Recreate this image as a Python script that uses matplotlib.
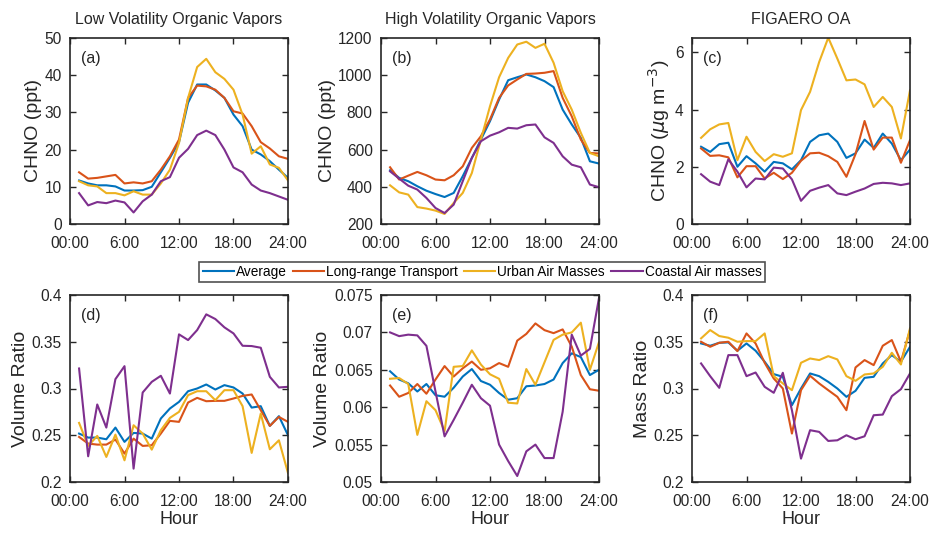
import matplotlib.pyplot as plt
from matplotlib.ticker import FuncFormatter

plt.rcParams['font.family'] = ['Liberation Sans', 'DejaVu Sans']

hours = list(range(1, 25))
series_names = ['Average', 'Long-range Transport', 'Urban Air Masses', 'Coastal Air masses']
colors = ['#0072BD', '#D95319', '#EDB120', '#7E2F8E']

# (a) low volatility organic vapors, ppt
lvov_avg = [11.7, 10.9, 10.4, 10.4, 10.1, 9.0, 9.0, 9.1, 10.0, 13.9, 17.8, 22.0,
            32.6, 37.5, 37.5, 35.9, 33.9, 29.4, 26.3, 20.0, 18.7, 16.9, 14.6, 12.4]
lvov_lrt = [13.9, 12.2, 12.4, 12.8, 13.2, 10.9, 11.2, 10.9, 11.5, 14.6, 18.2, 22.7,
            33.9, 37.2, 37.0, 36.1, 33.9, 30.3, 29.7, 26.3, 22.0, 20.3, 18.2, 17.5]
lvov_urb = [11.5, 10.4, 10.1, 8.3, 8.3, 7.7, 8.8, 7.9, 7.9, 10.9, 14.6, 21.8,
            33.9, 42.2, 44.4, 40.8, 39.0, 36.1, 29.4, 18.9, 20.9, 16.0, 15.1, 11.7]
lvov_cst = [8.3, 5.0, 5.9, 5.6, 6.3, 5.8, 3.1, 6.1, 7.9, 11.5, 12.6, 17.8,
            20.2, 23.9, 25.1, 23.9, 20.0, 15.2, 13.9, 10.6, 9.0, 8.3, 7.4, 6.5]

# (b) high volatility organic vapors, ppt
hvov_avg = [489, 448, 430, 403, 379, 361, 345, 367, 457, 555, 654, 753,
            869, 973, 989, 1004, 989, 968, 936, 815, 735, 663, 537, 525]
hvov_lrt = [505, 439, 460, 480, 462, 439, 435, 462, 510, 609, 672, 762,
            878, 945, 977, 1007, 1009, 1013, 1022, 878, 779, 654, 582, 579]
hvov_urb = [408, 370, 358, 291, 283, 272, 254, 313, 367, 474, 654, 833,
            989, 1093, 1165, 1180, 1147, 1169, 1067, 914, 815, 690, 582, 564]
hvov_cst = [483, 444, 406, 385, 340, 286, 259, 304, 430, 555, 645, 675,
            693, 717, 713, 731, 735, 666, 636, 564, 519, 505, 412, 398]

# (c) FIGAERO OA, ug m-3
oa_avg = [2.70, 2.52, 2.79, 2.84, 2.00, 2.37, 2.12, 1.83, 2.17, 2.12, 1.91, 2.23,
          2.87, 3.10, 3.16, 2.87, 2.31, 2.47, 2.95, 2.66, 3.16, 2.81, 2.23, 2.60]
oa_lrt = [2.64, 2.38, 2.40, 2.33, 1.63, 2.02, 2.02, 1.59, 1.79, 1.57, 1.79, 2.21,
          2.47, 2.49, 2.37, 2.17, 1.65, 2.44, 3.60, 2.60, 3.02, 3.02, 2.14, 2.93]
oa_urb = [3.01, 3.31, 3.48, 3.53, 2.23, 3.05, 2.52, 2.20, 2.44, 2.35, 2.47, 3.98,
          4.62, 5.66, 6.51, 5.78, 5.02, 5.05, 4.88, 4.09, 4.44, 4.09, 2.99, 4.67]
oa_cst = [1.74, 1.48, 1.36, 2.26, 1.83, 1.28, 1.59, 1.56, 1.97, 1.94, 1.56, 0.81,
          1.16, 1.27, 1.36, 1.07, 1.01, 1.13, 1.24, 1.40, 1.44, 1.42, 1.36, 1.42]

# (d) volume ratio, low volatility
lv_ratio_avg = [0.2518, 0.2475, 0.2475, 0.2457, 0.2582, 0.2429, 0.2525, 0.2518, 0.2464, 0.2679, 0.2786, 0.2857,
                0.2971, 0.3000, 0.3043, 0.2989, 0.3036, 0.3011, 0.2946, 0.2796, 0.2811, 0.2600, 0.2704, 0.2500]
lv_ratio_lrt = [0.2482, 0.2411, 0.2400, 0.2400, 0.2454, 0.2304, 0.2464, 0.2386, 0.2393, 0.2518, 0.2654, 0.2643,
                0.2850, 0.2900, 0.2864, 0.2868, 0.2868, 0.2893, 0.2921, 0.2936, 0.2768, 0.2600, 0.2696, 0.2643]
lv_ratio_urb = [0.2632, 0.2386, 0.2493, 0.2268, 0.2507, 0.2232, 0.2607, 0.2518, 0.2346, 0.2554, 0.2686, 0.2750,
                0.2929, 0.2971, 0.2971, 0.2875, 0.2982, 0.2982, 0.2811, 0.2311, 0.2732, 0.2350, 0.2446, 0.2096]
lv_ratio_cst = [0.3214, 0.2275, 0.2829, 0.2582, 0.3100, 0.3239, 0.2143, 0.2957, 0.3071, 0.3136, 0.2946, 0.3579,
                0.3518, 0.3625, 0.3793, 0.3743, 0.3654, 0.3589, 0.3457, 0.3454, 0.3436, 0.3125, 0.3011, 0.3018]

# (e) volume ratio, high volatility
hv_ratio_avg = [0.0648, 0.0637, 0.0632, 0.0621, 0.0631, 0.0616, 0.0614, 0.0626, 0.0641, 0.0651, 0.0635, 0.0630,
                0.0619, 0.0610, 0.0612, 0.0628, 0.0629, 0.0631, 0.0637, 0.0659, 0.0672, 0.0667, 0.0643, 0.0650]
hv_ratio_lrt = [0.0629, 0.0614, 0.0619, 0.0631, 0.0618, 0.0637, 0.0655, 0.0641, 0.0652, 0.0661, 0.0650, 0.0652,
                0.0659, 0.0654, 0.0689, 0.0698, 0.0712, 0.0703, 0.0699, 0.0704, 0.0681, 0.0643, 0.0624, 0.0622]
hv_ratio_urb = [0.0638, 0.0639, 0.0631, 0.0563, 0.0608, 0.0596, 0.0568, 0.0654, 0.0655, 0.0676, 0.0657, 0.0644,
                0.0638, 0.0606, 0.0605, 0.0651, 0.0630, 0.0660, 0.0690, 0.0697, 0.0700, 0.0713, 0.0650, 0.0687]
hv_ratio_cst = [0.0700, 0.0695, 0.0697, 0.0696, 0.0682, 0.0621, 0.0561, 0.0583, 0.0606, 0.0630, 0.0612, 0.0602,
                0.0550, 0.0528, 0.0508, 0.0541, 0.0550, 0.0532, 0.0532, 0.0594, 0.0697, 0.0669, 0.0678, 0.0746]

# (f) mass ratio, FIGAERO
oa_ratio_avg = [0.3482, 0.3457, 0.3489, 0.3493, 0.3404, 0.3482, 0.3404, 0.3286, 0.3154, 0.3125, 0.2821, 0.3000,
                0.3161, 0.3132, 0.3071, 0.3000, 0.2911, 0.2975, 0.3114, 0.3125, 0.3268, 0.3357, 0.3286, 0.3446]
oa_ratio_lrt = [0.3500, 0.3446, 0.3489, 0.3500, 0.3400, 0.3589, 0.3482, 0.3275, 0.3107, 0.3000, 0.2518, 0.2982,
                0.3136, 0.3054, 0.2982, 0.2911, 0.2768, 0.3225, 0.3304, 0.3250, 0.3457, 0.3518, 0.3286, 0.3625]
oa_ratio_urb = [0.3536, 0.3625, 0.3561, 0.3543, 0.3500, 0.3507, 0.3507, 0.3589, 0.3132, 0.3054, 0.2982, 0.3275,
                0.3321, 0.3304, 0.3346, 0.3311, 0.3132, 0.3082, 0.3150, 0.3161, 0.3232, 0.3382, 0.3257, 0.3643]
oa_ratio_cst = [0.3268, 0.3132, 0.3007, 0.3357, 0.3357, 0.3132, 0.3171, 0.3018, 0.2954, 0.3168, 0.2768, 0.2250,
                0.2554, 0.2536, 0.2439, 0.2446, 0.2500, 0.2457, 0.2489, 0.2714, 0.2721, 0.2918, 0.2993, 0.3161]

col_titles = ['Low Volatility Organic Vapors', 'High Volatility Organic Vapors', 'FIGAERO OA']
panels = [
    ('(a)', [lvov_avg, lvov_lrt, lvov_urb, lvov_cst], 'CHNO (ppt)', (0, 50), [0, 10, 20, 30, 40, 50]),
    ('(b)', [hvov_avg, hvov_lrt, hvov_urb, hvov_cst], 'CHNO (ppt)', (200, 1200), [200, 400, 600, 800, 1000, 1200]),
    ('(c)', [oa_avg, oa_lrt, oa_urb, oa_cst], r'CHNO ($\mu$g m$^{-3}$)', (0, 6.5), [0, 2, 4, 6]),
    ('(d)', [lv_ratio_avg, lv_ratio_lrt, lv_ratio_urb, lv_ratio_cst], 'Volume Ratio', (0.2, 0.4),
     [0.2, 0.25, 0.3, 0.35, 0.4]),
    ('(e)', [hv_ratio_avg, hv_ratio_lrt, hv_ratio_urb, hv_ratio_cst], 'Volume Ratio', (0.05, 0.075),
     [0.05, 0.055, 0.06, 0.065, 0.07, 0.075]),
    ('(f)', [oa_ratio_avg, oa_ratio_lrt, oa_ratio_urb, oa_ratio_cst], 'Mass Ratio', (0.2, 0.4),
     [0.2, 0.25, 0.3, 0.35, 0.4]),
]

W, H = 933, 536
fig = plt.figure(figsize=(W / 100, H / 100), dpi=100)

lefts = [70, 381, 692]
width = 218
rows = [(38, 224), (295, 482)]
txt = '#262626'

axes = []
for i, (label, data, ylabel, ylim, yticks) in enumerate(panels):
    r, c = divmod(i, 3)
    top, bot = rows[r]
    ax = fig.add_axes([lefts[c] / W, 1 - bot / H, width / W, (bot - top) / H])
    axes.append(ax)
    for y, name, col in zip(data, series_names, colors):
        ax.plot(hours, y, color=col, lw=1.5, label=name)
    ax.set_xlim(0, 24)
    ax.set_xticks([0, 6, 12, 18, 24])
    ax.set_xticklabels(['00:00', '6:00', '12:00', '18:00', '24:00'])
    ax.set_ylim(*ylim)
    ax.set_yticks(yticks)
    ax.yaxis.set_major_formatter(FuncFormatter(lambda v, p: '%g' % v))
    ax.tick_params(direction='in', top=True, right=True, length=4, width=1,
                   labelsize=11.2, colors=txt)
    ax.tick_params(axis='x', pad=9)
    ax.tick_params(axis='y', pad=6)
    for s in ax.spines.values():
        s.set_linewidth(1.2)
        s.set_color(txt)
    ax.set_ylabel(ylabel, fontsize=14, color=txt, labelpad=2)
    ax.text(0.05, 0.93, label, transform=ax.transAxes, fontsize=11.5, va='top', ha='left', color=txt)
    if r == 0:
        ax.set_title(col_titles[c], fontsize=11.5, color=txt, pad=10)
    else:
        ax.set_xlabel('Hour', fontsize=13, color=txt, labelpad=1)

handles, labels = axes[0].get_legend_handles_labels()
leg = fig.legend(handles, labels, loc='center', bbox_to_anchor=(482 / W, 1 - 272 / H), ncol=4,
                 fontsize=9.8, frameon=True, fancybox=False, handlelength=2.3, handletextpad=0.15,
                 columnspacing=0.45, borderpad=0.25, borderaxespad=0, edgecolor=txt)
leg.get_frame().set_linewidth(1.2)

fig.savefig('out.png', dpi=100)
